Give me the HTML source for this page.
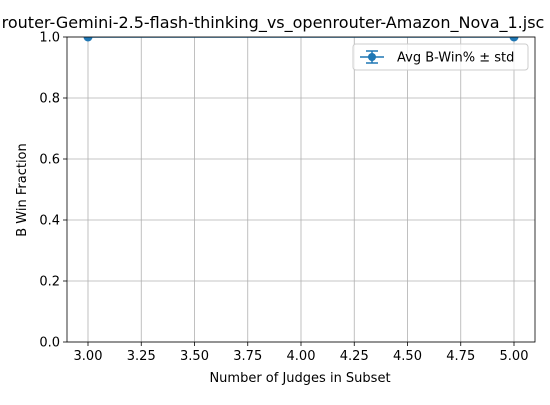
<!DOCTYPE html>
<html><head><meta charset="utf-8"><style>
body{margin:0;background:#fff;}
svg text{font-family:"DejaVu Sans","Liberation Sans",sans-serif;fill:#000;}
</style></head><body>
<svg id="chart" width="550" height="400" viewBox="0 0 550 400">
<defs><clipPath id="pc"><rect x="67" y="37" width="468" height="305"/></clipPath></defs>
<rect width="550" height="400" fill="#fff"/>
<text x="273" y="28" font-size="16" text-anchor="middle">router-Gemini-2.5-flash-thinking_vs_openrouter-Amazon_Nova_1.jsc</text>
<g id="grid"></g>
<g id="series" clip-path="url(#pc)"></g>
<g id="axes"></g>
<text x="300" y="382" font-size="13" text-anchor="middle">Number of Judges in Subset</text>
<text transform="translate(26,190) rotate(-90)" font-size="13" text-anchor="middle">B Win Fraction</text>
<g>
<rect x="353" y="44" width="175" height="26" rx="3" fill="#fff" fill-opacity="0.8" stroke="#ccc"/>
<line x1="360" y1="57" x2="384" y2="57" stroke="#1f77b4" stroke-width="1.5"/>
<line x1="366" y1="51" x2="378" y2="51" stroke="#1f77b4" stroke-width="1.5"/>
<line x1="366" y1="63" x2="378" y2="63" stroke="#1f77b4" stroke-width="1.5"/>
<line x1="372" y1="51" x2="372" y2="63" stroke="#1f77b4" stroke-width="1.5"/>
<circle cx="372" cy="57" r="4" fill="#1f77b4"/>
<text x="397" y="61.5" font-size="13">Avg B-Win% ± std</text>
</g>
</svg>
<script>
const judges=[3,5];
const bwin=[1.0,1.0];
const bstd=[0,0];
const xTicks=["3.00","3.25","3.50","3.75","4.00","4.25","4.50","4.75","5.00"];
const yTicks=["0.0","0.2","0.4","0.6","0.8","1.0"];
const L=67,R=535,T=37,B=342;
const xs=v=>88+(v-3)/2*(514-88);
const ys=v=>B-v*(B-T);
const NS="http://www.w3.org/2000/svg";
function mk(p,t,a){const e=document.createElementNS(NS,t);for(const k in a)e.setAttribute(k,a[k]);p.appendChild(e);return e;}
const g=document.getElementById('grid'),ax=document.getElementById('axes'),s=document.getElementById('series');
xTicks.forEach(t=>{const x=xs(+t);
const l=mk(g,'line',{x1:x,x2:x,y1:T,y2:B,stroke:'#b0b0b0','stroke-width':0.8});


mk(ax,'line',{x1:x,x2:x,y1:B,y2:B+4,stroke:'#000','stroke-width':0.8});
const tx=mk(ax,'text',{x:x,y:B+18,'font-size':13,'text-anchor':'middle'});tx.textContent=t;

});
yTicks.forEach(t=>{const y=ys(+t);
const l=mk(g,'line',{x1:L,x2:R,y1:y,y2:y,stroke:'#b0b0b0','stroke-width':0.8});


mk(ax,'line',{x1:L-4,x2:L,y1:y,y2:y,stroke:'#000','stroke-width':0.8});
const tx=mk(ax,'text',{x:L-7,y:y+4.5,'font-size':13,'text-anchor':'end'});tx.textContent=t;

});
const fr=mk(ax,'rect',{x:L,y:T,width:R-L,height:B-T,fill:'none',stroke:'#000','stroke-width':0.8});


const pts=judges.map((j,i)=>xs(j)+','+ys(bwin[i])).join(' ');
const pl=mk(s,'polyline',{points:pts,fill:'none',stroke:'#1f77b4','stroke-width':1.5});


judges.forEach((j,i)=>{const x=xs(j);
mk(s,'line',{x1:x,x2:x,y1:ys(bwin[i]+bstd[i]),y2:ys(bwin[i]-bstd[i]),stroke:'#1f77b4','stroke-width':1.5});
mk(s,'line',{x1:x-4,x2:x+4,y1:ys(bwin[i]+bstd[i]),y2:ys(bwin[i]+bstd[i]),stroke:'#1f77b4','stroke-width':1.5});
const c=mk(s,'circle',{cx:x,cy:ys(bwin[i]),r:4.5,fill:'#1f77b4'});

});
</script>
</body></html>
